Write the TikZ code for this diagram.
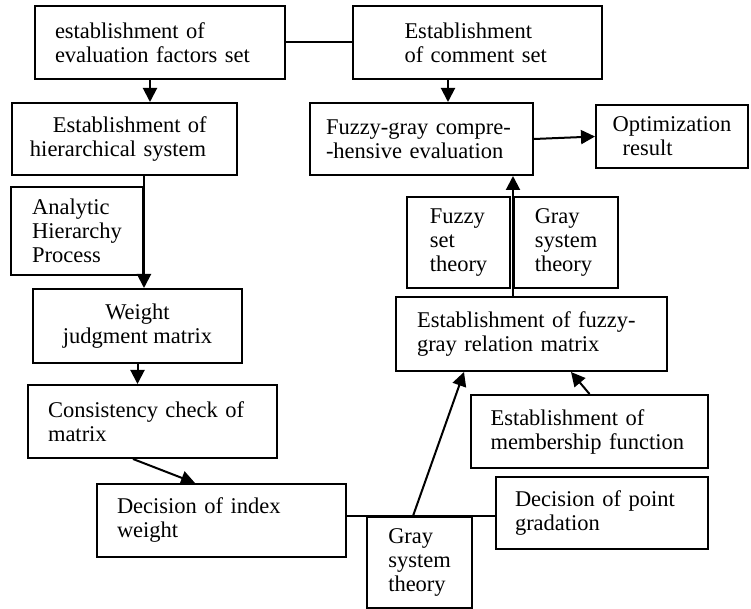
\documentclass[tikz,border=0pt]{standalone}
\usepackage{fontspec}
\setmainfont{Liberation Serif}
\usepackage{tikz}
\usetikzlibrary{arrows.meta}

\begin{document}
\begin{tikzpicture}[x=0.5pt, y=-0.5pt,
    font=\fontsize{11.25}{12}\selectfont,
    box/.style={draw, line width=1pt, inner sep=0pt, align=left},
    arr/.style={line width=1pt, -{Triangle[length=7pt,width=7pt]}},
    link/.style={line width=1pt}]
  \useasboundingbox (0,0) rectangle (751,609);
  % left branch
  \node[box, minimum width=125pt, minimum height=36.5pt, text width=105pt] (factors) at (160,42.5)
    {establishment of\\evaluation factors set};
  \node[box, minimum width=112.5pt, minimum height=36pt, text width=94.5pt] (hier) at (124.5,139)
    {\hspace*{11.5pt}Establishment of\\hierarchical system};
  \node[box, minimum width=66pt, minimum height=44pt] (ahp) at (77,231)
    {Analytic\\Hierarchy\\Process};
  \node[box, minimum width=104.5pt, minimum height=37pt, align=center] (judge) at (137.5,326)
    {Weight\\judgment matrix};
  \node[box, minimum width=124.5pt, minimum height=36.5pt, text width=104.5pt] (check) at (152.5,421.5)
    {Consistency check of\\matrix};
  \node[box, minimum width=124.5pt, minimum height=36.5pt, text width=104.5pt] (weight) at (221.5,520.5)
    {Decision of index\\weight};
  % right branch
  \node[box, minimum width=124.5pt, minimum height=36.5pt, text width=73pt] (comment) at (477.5,42.5)
    {Establishment\\of comment set};
  \node[box, minimum width=111.5pt, minimum height=36pt, text width=95.5pt] (fgeval) at (421.5,139)
    {Fuzzy-gray compre-\\-hensive evaluation};
  \node[box, minimum width=76pt, minimum height=31.5pt] (optim) at (672,136.5)
    {Optimization\\\hspace*{5pt}result};
  \node[box, minimum width=51.5pt, minimum height=45.5pt] (fuzzyset) at (458.5,242.5)
    {Fuzzy\\set\\theory};
  \node[box, minimum width=52pt, minimum height=45.5pt] (graysys) at (566,242.5)
    {Gray\\system\\theory};
  \node[box, minimum width=135.5pt, minimum height=37pt, text width=114.5pt] (relmat) at (531.5,334)
    {Establishment of fuzzy-\\gray relation matrix};
  \node[box, minimum width=118.5pt, minimum height=36.5pt, text width=99pt] (member) at (589.5,431.5)
    {Establishment of\\membership function};
  \node[box, minimum width=106pt, minimum height=36pt, text width=87pt] (grade) at (602,513)
    {Decision of point\\gradation};
  \node[box, minimum width=52.5pt, minimum height=45.5pt] (graybot) at (419.5,562.5)
    {Gray\\system\\theory};

  % connectors
  \draw[link] (factors) -- (comment);
  \draw[arr] ([xshift=-5pt]factors.south) -- ([xshift=-5pt]factors.south |- hier.north);
  \draw[arr] ([xshift=-14.75pt]comment.south) -- ([xshift=-14.75pt]comment.south |- fgeval.north);
  \draw[arr] (fgeval.east) -- (optim.west);
  \draw[arr] (ahp.east |- hier.south) -- (ahp.east |- judge.north);
  \draw[arr] (judge.south) -- (judge.south |- check.north);
  \draw[arr] ([xshift=-9.75pt]check.south) -- ([xshift=-13.25pt]weight.north);
  \draw[link] (weight.east |- graybot.north) -- (grade.west |- graybot.north);
  \draw[arr] ([xshift=-3.25pt]graybot.north) -- ([xshift=-33.75pt]relmat.south);
  \draw[arr] (member.north) -- ([xshift=19.75pt]relmat.south);
  \draw[arr] ([xshift=-9.25pt]relmat.north) -- ([xshift=-9.25pt]relmat.north |- fgeval.south);
\end{tikzpicture}
\end{document}
